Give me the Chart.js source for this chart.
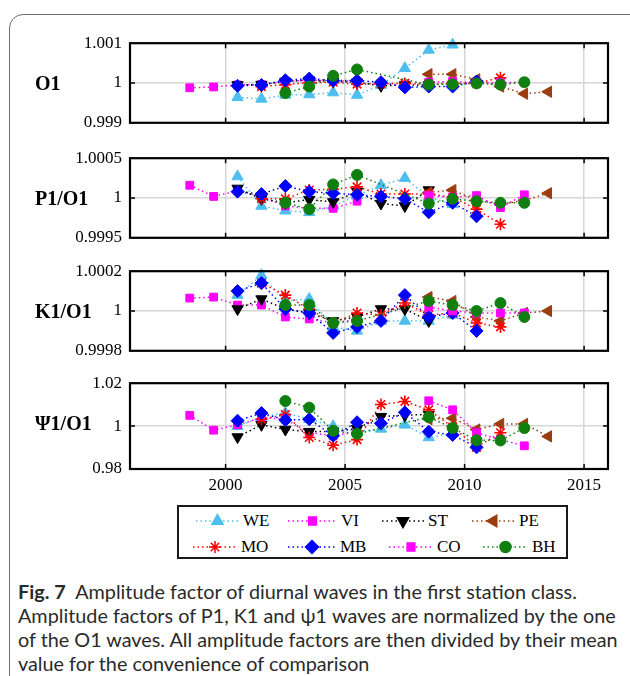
<!DOCTYPE html>
<html>
<head>
<meta charset="utf-8">
<script src="https://cdn.jsdelivr.net/npm/chart.js"></script>
<style>
body { margin:0; background:#fff; width:630px; height:676px; overflow:hidden; position:relative; font-family:"Liberation Serif", serif; }
.frame { position:absolute; left:9px; top:14px; width:680px; height:720px; border:1.5px solid #6e6e6e; border-radius:14px; }
.panel { position:absolute; left:0; }
.plabel { position:absolute; left:35px; font-weight:bold; font-size:20px; line-height:20px; color:#000; }
#legend { position:absolute; left:177px; top:505px; width:387px; height:50px; border:2px solid #1a1a1a; }
.item { position:absolute; height:20px; }
.item canvas { position:absolute; left:0; top:0; }
.item span { position:absolute; top:0; font-size:17px; line-height:20px; color:#000; }
#caption { position:absolute; left:18px; top:579px; font-family:Lato, "Open Sans", sans-serif; color:#2a2a2a; white-space:nowrap; }
#caption div { height:24px; line-height:24px; }
</style>
</head>
<body>
<div class="frame"></div>
<div id="legend"></div>
<div id="caption">
  <div><b>Fig. 7</b>&nbsp;&nbsp;Amplitude factor of diurnal waves in the first station class.</div>
  <div id="fitline">Amplitude factors of P1, K1 and ψ1 waves are normalized by the one</div>
  <div>of the O1 waves. All amplitude factors are then divided by their mean</div>
  <div>value for the convenience of comparison</div>
</div>
<script>
// years of the yearly estimates (mid-year)
var years = [1998.5, 1999.5, 2000.5, 2001.5, 2002.5, 2003.5, 2004.5, 2005.5, 2006.5, 2007.5, 2008.5, 2009.5, 2010.5, 2011.5, 2012.5, 2013.5];
var xTicks = [2000, 2005, 2010, 2015];
var stations = ['WE', 'VI', 'ST', 'PE', 'MO', 'MB', 'CO', 'BH'];
var panelNames = ['O1', 'P1/O1', 'K1/O1', 'Ψ1/O1'];
var yTicks = [[0.999, 1, 1.001], [0.9995, 1, 1.0005], [0.9998, 1, 1.0002], [0.98, 1, 1.02]];
var yTickLabels = [['0.999', '1', '1.001'], ['0.9995', '1', '1.0005'], ['0.9998', '1', '1.0002'], ['0.98', '1', '1.02']];

var _ = null;
// O1
var O1_WE = [_, _, 0.99964, 0.99960, 0.99970, 0.99971, 0.99976, 0.99970, 0.99995, 1.00037, 1.00083, 1.00096, _, _, _, _];
var O1_VI = [0.99988, 0.99990, 0.99995, 0.99996, 1.00004, 1.00007, 1.00006, 1.00004, _, _, _, _, _, _, _, _];
var O1_ST = [_, _, 0.99995, 0.99996, 1.00004, 1.00007, 1.00004, 1.00002, 0.99993, 0.99995, 0.99995, _, _, _, _, _];
var O1_PE = [_, _, _, _, _, _, _, _, _, _, 1.00022, 1.00022, 1.00009, 0.99991, 0.99973, 0.99978];
var O1_MO = [_, _, _, 0.99991, 0.99996, 1.00001, 1.00002, 0.99997, 0.99998, 0.99999, 0.99997, 0.99999, 1.00000, 1.00013, _, _];
var O1_MB = [_, _, 0.99993, 0.99995, 1.00007, 1.00011, 1.00006, 1.00006, 1.00002, 0.99989, 0.99991, 0.99991, 1.00004, _, _, _];
var O1_CO = [_, _, _, _, _, _, _, _, _, _, 1.00002, 1.00004, 1.00000, 1.00001, 1.00002, _];
var O1_BH = [_, _, _, _, 0.99975, 0.99991, 1.00018, 1.00034, _, _, 0.99996, 0.99997, 0.99999, 0.99996, 1.00002, _];
// P1/O1
var P1_WE = [_, _, 1.00027, 0.99990, 0.99984, 0.99982, 0.99990, 1.00003, 1.00016, 1.00025, 1.00001, 0.99992, _, _, _, _];
var P1_VI = [1.00016, 1.00002, 1.00009, 1.00001, 0.99990, 0.99987, 0.99987, 0.99996, _, _, _, _, _, _, _, _];
var P1_ST = [_, _, 1.00012, 0.99999, 0.99994, 0.99998, 0.99995, 1.00008, 0.99993, 0.99990, 1.00010, _, _, _, _, _];
var P1_PE = [_, _, _, _, _, _, _, _, _, _, 1.00007, 1.00010, 0.99997, 0.99992, 0.99997, 1.00006];
var P1_MO = [_, _, _, 0.99999, 0.99999, 1.00010, 1.00011, 1.00014, 1.00005, 1.00005, 1.00005, 1.00001, 0.99986, 0.99967, _, _];
var P1_MB = [_, _, 1.00008, 1.00005, 1.00015, 1.00008, 1.00006, 1.00004, 1.00002, 0.99999, 0.99982, 0.99994, 0.99977, _, _, _];
var P1_CO = [_, _, _, _, _, _, _, _, _, _, 1.00003, 1.00001, 1.00003, 0.99988, 1.00004, _];
var P1_BH = [_, _, _, _, 0.99994, 0.99986, 1.00017, 1.00029, _, _, 0.99993, 0.99999, 0.99996, 0.99994, 0.99994, _];
// K1/O1
var K1_WE = [_, _, 1.00008, 1.00018, 1.00005, 1.00006, 0.99992, 0.99990, 0.99995, 0.99995, 0.99995, 0.99998, _, _, _, _];
var K1_VI = [1.000065, 1.00007, 1.00003, 1.00003, 0.99997, 0.99996, 0.99994, 0.99996, _, _, _, _, _, _, _, _];
var K1_ST = [_, _, 1.00001, 1.00006, 1.00001, 0.99999, 0.99995, 0.99997, 1.00001, 1.00001, 0.99995, _, _, _, _, _];
var K1_PE = [_, _, _, _, _, _, _, _, _, _, 1.00007, 1.00005, 0.99997, 0.99995, 0.99999, 1.00000];
var K1_MO = [_, _, _, 1.00014, 1.00008, 1.00001, 0.99994, 0.99999, 0.99998, 1.00004, 0.99998, 0.99999, 0.99994, 0.99992, _, _];
var K1_MB = [_, _, 1.00010, 1.00014, 1.00001, 0.99999, 0.99989, 0.99992, 0.99995, 1.00008, 0.99997, 0.99999, 0.99990, _, _, _];
var K1_CO = [_, _, _, _, _, _, _, _, _, _, 1.00002, 1.00000, 0.99999, 0.99999, 0.99999, _];
var K1_BH = [_, _, _, _, 1.00003, 1.00003, 0.99994, 0.99995, _, _, 1.00005, 1.00003, 1.00000, 1.00004, 0.99997, _];
// Psi1/O1
var PS_WE = [_, _, 0.9999, 1.0042, 1.0061, 1.0032, 0.9999, 0.9974, 0.9987, 1.0006, 0.9947, 0.9966, _, _, _, _];
var PS_VI = [1.0050, 0.9981, 1.0006, 1.0039, 1.0032, 0.9970, 0.9955, 0.9974, _, _, _, _, _, _, _, _];
var PS_ST = [_, _, 0.9949, 1.0006, 0.9984, 0.9974, 0.9976, 0.9988, 1.0044, 1.0051, 1.0054, _, _, _, _, _];
var PS_PE = [_, _, _, _, _, _, _, _, _, _, 1.0032, 1.0037, 0.9984, 1.0010, 1.0010, 0.9952];
var PS_MO = [_, _, _, 1.0032, 1.0054, 0.9947, 0.9911, 0.9937, 1.0101, 1.0115, 1.0076, 0.9996, 0.9901, 0.9969, _, _];
var PS_MB = [_, _, 1.0025, 1.0061, 1.0028, 1.0032, 0.9955, 1.0018, 1.0013, 1.0064, 0.9974, 0.9959, 0.9901, _, _, _];
var PS_CO = [_, _, _, _, _, _, _, _, _, _, 1.0118, 1.0076, 0.9969, 0.9937, 0.9908, _];
var PS_BH = [_, _, _, _, 1.0117, 1.0086, 0.9978, 0.9964, _, _, 1.0042, 0.9991, 0.9934, 0.9933, 0.9991, _];

var panelData = [
  [O1_WE, O1_VI, O1_ST, O1_PE, O1_MO, O1_MB, O1_CO, O1_BH],
  [P1_WE, P1_VI, P1_ST, P1_PE, P1_MO, P1_MB, P1_CO, P1_BH],
  [K1_WE, K1_VI, K1_ST, K1_PE, K1_MO, K1_MB, K1_CO, K1_BH],
  [PS_WE, PS_VI, PS_ST, PS_PE, PS_MO, PS_MB, PS_CO, PS_BH]
];

// marker styles, same order as stations
var colors = ['#4dbeee', '#ff00ff', '#000000', '#9c3d10', '#ff0000', '#0000ff', '#ff00ff', '#0f800f'];
var shapes = ['triangle', 'rect', 'triangle', 'triangle', 'star', 'rectRot', 'rect', 'circle'];
var rotations = [0, 0, 180, 270, 0, 0, 0, 0];
var radii = [6.5, 5.5, 6.5, 6.5, 6, 6.5, 5.5, 5.5];

var plotTops = [37, 151.5, 265, 376.5];
var plotH = 92;
var pad = 12;

var framePlugin = {
  id: 'frame',
  afterDatasetsDraw: function(chart) {
    var ctx = chart.ctx, a = chart.chartArea;
    ctx.save();
    ctx.strokeStyle = '#000';
    ctx.lineWidth = 1.5;
    xTicks.forEach(function(v) {
      var px = chart.scales.x.getPixelForValue(v);
      ctx.beginPath();
      ctx.moveTo(px, a.top); ctx.lineTo(px, a.top + 5);
      ctx.moveTo(px, a.bottom); ctx.lineTo(px, a.bottom - 5);
      ctx.stroke();
    });
    var py = chart.scales.y.getPixelForValue(1);
    ctx.beginPath();
    ctx.moveTo(a.left, py); ctx.lineTo(a.left + 5, py);
    ctx.moveTo(a.right, py); ctx.lineTo(a.right - 5, py);
    ctx.stroke();
    ctx.lineWidth = 2.2;
    ctx.strokeRect(a.left, a.top, a.right - a.left, a.bottom - a.top);
    ctx.restore();
  }
};

Chart.defaults.font.family = '"Liberation Serif", serif';
Chart.defaults.color = '#000';

panelData.forEach(function(series, p) {
  var last = p == panelData.length - 1;
  var cv = document.createElement('canvas');
  var h = pad + plotH + (last ? 34 : pad);
  cv.width = 630; cv.height = h;
  cv.className = 'panel';
  cv.style.top = (plotTops[p] - pad) + 'px';
  cv.style.width = '630px'; cv.style.height = h + 'px';
  document.body.appendChild(cv);

  var lbl = document.createElement('div');
  lbl.className = 'plabel';
  lbl.textContent = panelNames[p];
  lbl.style.top = (plotTops[p] + plotH / 2 - 10) + 'px';
  document.body.appendChild(lbl);

  var datasets = stations.map(function(name, i) {
    return {
      label: name,
      data: years.map(function(x, k) { return {x: x, y: series[i][k]}; }),
      borderColor: colors[i],
      backgroundColor: colors[i],
      borderWidth: 1.5,
      borderDash: [1.5, 3],
      pointStyle: shapes[i],
      pointRotation: rotations[i],
      pointRadius: radii[i],
      pointBorderWidth: shapes[i] == 'star' ? 1.6 : 1,
      spanGaps: true,
      tension: 0,
      order: stations.length - 1 - i,
      clip: false
    };
  });

  new Chart(cv, {
    type: 'line',
    data: { datasets: datasets },
    options: {
      responsive: false,
      animation: false,
      devicePixelRatio: 1,
      layout: { padding: { top: pad, right: 22, bottom: last ? 4 : pad, left: 0 } },
      plugins: { legend: { display: false }, tooltip: { enabled: false } },
      scales: {
        x: {
          type: 'linear', min: 1996, max: 2016,
          afterBuildTicks: function(s) { s.ticks = xTicks.map(function(v) { return {value: v}; }); },
          afterFit: function(s) { s.height = last ? 30 : 0; },
          border: { display: false },
          grid: { color: '#d6d6d6', lineWidth: 1.5, drawTicks: false },
          ticks: { display: last, padding: 6, font: { size: 17 }, callback: function(v) { return String(v); } }
        },
        y: {
          min: yTicks[p][0], max: yTicks[p][2],
          afterBuildTicks: function(s) { s.ticks = yTicks[p].map(function(v) { return {value: v}; }); },
          afterFit: function(s) { s.width = 130; },
          border: { display: false },
          grid: { color: '#d6d6d6', lineWidth: 1.5, drawTicks: false },
          ticks: { padding: 8, font: { size: 17 }, callback: function(v, idx) { return yTickLabels[p][idx]; } }
        }
      }
    },
    plugins: [framePlugin]
  });
});

// legend, two rows of four
var legendPos = [[196, 243, 521], [288, 341, 521], [382, 428, 521], [472, 519, 521],
                 [193, 241, 547], [288, 340, 547], [389, 437, 547], [483, 532, 547]];
var legendLeft = 177, legendTop = 505;
var legend = document.getElementById('legend');
stations.forEach(function(name, i) {
  var pos = legendPos[i];
  var item = document.createElement('div');
  item.className = 'item';
  item.style.left = (pos[0] - legendLeft - 2) + 'px';
  item.style.top = (pos[2] - legendTop - 12) + 'px';
  var w = pos[1] - pos[0] - 4;
  var c = document.createElement('canvas');
  c.width = w; c.height = 20;
  item.appendChild(c);
  var ctx = c.getContext('2d');
  ctx.strokeStyle = colors[i];
  ctx.fillStyle = colors[i];
  ctx.lineWidth = 1.5;
  ctx.setLineDash([1.5, 3]);
  ctx.beginPath(); ctx.moveTo(0, 10); ctx.lineTo(w, 10); ctx.stroke();
  ctx.setLineDash([]);
  Chart.helpers.drawPoint(ctx, {
    pointStyle: shapes[i], rotation: rotations[i], radius: radii[i],
    borderWidth: shapes[i] == 'star' ? 1.6 : 1
  }, w / 2, 10);
  var t = document.createElement('span');
  t.textContent = name;
  t.style.left = (pos[1] - pos[0]) + 'px';
  item.appendChild(t);
  legend.appendChild(item);
});

// size caption font so the long line fits like the figure
(function() {
  var cap = document.getElementById('caption');
  var m = document.createElement('canvas').getContext('2d');
  m.font = '100px Lato';
  var wdt = m.measureText(document.getElementById('fitline').textContent).width;
  cap.style.fontSize = (100 * 599 / wdt).toFixed(2) + 'px';
})();
</script>
</body>
</html>
